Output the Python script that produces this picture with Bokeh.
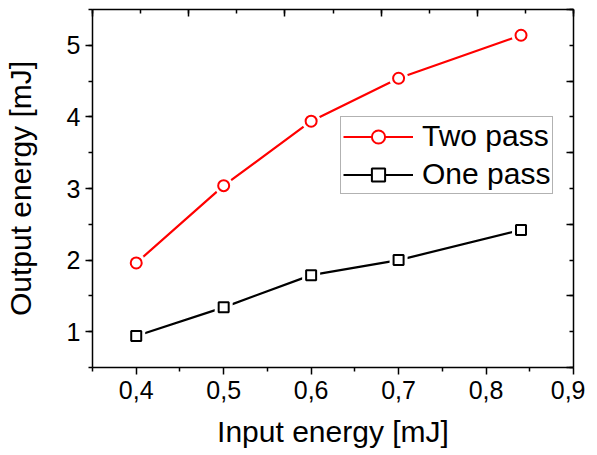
from bokeh.plotting import figure
from bokeh.models import (Range1d, LinearAxis, SingleIntervalTicker, FixedTicker,
                          CustomJSTickFormatter, Legend, LegendItem)
from bokeh.embed import file_html
from bokeh.resources import INLINE

# ---- data ----
input_energy = [0.4, 0.5, 0.6, 0.7, 0.84]
two_pass = [1.96, 3.04, 3.94, 4.54, 5.14]
one_pass = [0.94, 1.34, 1.79, 2.00, 2.42]
x_ticks = [0.4, 0.5, 0.6, 0.7, 0.8, 0.9]
x_tick_labels = ["0,4", "0,5", "0,6", "0,7", "0,8", "0,9"]
x_minor_ticks = [0.35, 0.45, 0.55, 0.65, 0.75, 0.85]
series_names = ["Two pass", "One pass"]

FONT = "Liberation Sans"

p = figure(frame_width=481, frame_height=358, output_backend="svg",
           toolbar_location=None, x_range=Range1d(0.35, 0.9),
           y_range=Range1d(0.5, 5.5), min_border_left=92, min_border_top=9,
           min_border_right=12, min_border_bottom=78,
           x_axis_label="Input energy [mJ]", y_axis_label="Output energy [mJ]")
p.outline_line_color = None
p.grid.visible = False
p.background_fill_color = "white"

p.extra_x_ranges = {"top": Range1d(0, 5)}
p.extra_y_ranges = {"right": Range1d(0, 5)}

# bottom axis
xa = p.xaxis[0]
xa.ticker = FixedTicker(ticks=x_ticks, minor_ticks=x_minor_ticks)
xa.formatter = CustomJSTickFormatter(args=dict(xt=x_ticks, xl=x_tick_labels),
    code="const i = xt.findIndex(t => Math.abs(t - tick) < 1e-9); return i >= 0 ? xl[i] : '';")
# left axis
ya = p.yaxis[0]
ya.ticker = SingleIntervalTicker(interval=1, num_minor_ticks=2)

for ax in (xa, ya):
    ax.axis_line_color = "black"
    ax.axis_line_width = 1.5
    ax.major_tick_line_color = "black"
    ax.minor_tick_line_color = "black"
    ax.major_tick_line_width = 1.5
    ax.minor_tick_line_width = 1.5
    ax.major_tick_out = 7
    ax.major_tick_in = 0
    ax.minor_tick_out = 4
    ax.minor_tick_in = 0
    ax.major_label_text_font = FONT
    ax.major_label_text_font_size = "25px"
    ax.major_label_text_color = "black"
    ax.axis_label_text_font = FONT
    ax.axis_label_text_font_size = "30px"
    ax.axis_label_text_font_style = "normal"
    ax.axis_label_text_color = "black"
xa.major_label_standoff = 6
xa.axis_label_standoff = 13
ya.major_label_standoff = 5
ya.axis_label_standoff = 27

# top and right decorative axes (inward ticks, no labels)
top = LinearAxis(x_range_name="top", ticker=SingleIntervalTicker(interval=1, num_minor_ticks=2),
                 formatter=CustomJSTickFormatter(code="return '';"))
right = LinearAxis(y_range_name="right", ticker=SingleIntervalTicker(interval=1, num_minor_ticks=2),
                   formatter=CustomJSTickFormatter(code="return '';"))
for ax in (top, right):
    ax.axis_line_color = "black"
    ax.axis_line_width = 1.5
    ax.major_tick_line_color = "black"
    ax.minor_tick_line_color = "black"
    ax.major_tick_line_width = 1.5
    ax.minor_tick_line_width = 1.5
    ax.major_tick_in = 7
    ax.major_tick_out = 0
    ax.minor_tick_in = 4
    ax.minor_tick_out = 0
    ax.major_label_text_font_size = "0px"
    ax.major_label_standoff = 0
p.add_layout(top, "above")
p.add_layout(right, "right")

# series
l1 = p.line(input_energy, two_pass, line_color="#ff0000", line_width=2.2)
h1 = p.scatter(input_energy, two_pass, marker="circle", size=19, fill_color="white", line_color=None)
m1 = p.scatter(input_energy, two_pass, marker="circle", size=11, fill_color="white",
               line_color="#ff0000", line_width=2)
l2 = p.line(input_energy, one_pass, line_color="black", line_width=2.2)
h2 = p.scatter(input_energy, one_pass, marker="square", size=18, fill_color="white", line_color=None)
m2 = p.scatter(input_energy, one_pass, marker="square", size=10, fill_color="white",
               line_color="black", line_width=2)

legend = Legend(items=[LegendItem(label=series_names[0], renderers=[l1, h1, m1]),
                       LegendItem(label=series_names[1], renderers=[l2, h2, m2])],
                location=(248, 173), orientation="vertical")
legend.label_text_font = FONT
legend.label_text_font_size = "30px"
legend.label_text_color = "black"
legend.label_standoff = 9
legend.glyph_width = 70
legend.glyph_height = 33
legend.label_height = 33
legend.spacing = 4
legend.padding = 2
legend.margin = 0
legend.border_line_color = "#666666"
legend.border_line_width = 1.5
legend.background_fill_alpha = 1
p.add_layout(legend, "center")

open("out.html", "w").write(file_html(p, INLINE))
